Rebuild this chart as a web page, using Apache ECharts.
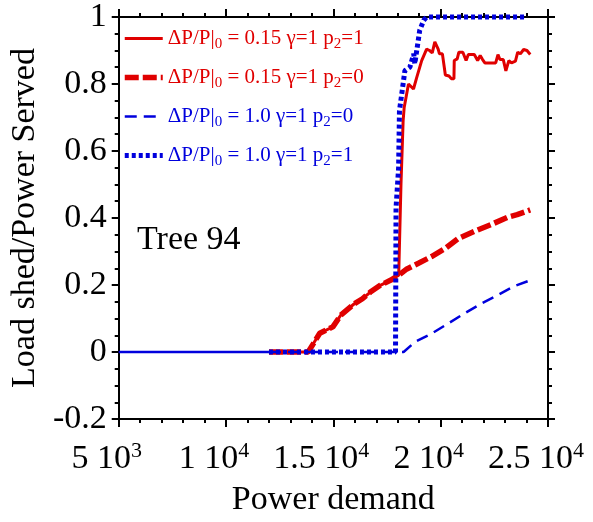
<!DOCTYPE html>
<html>
<head>
<meta charset="utf-8">
<script src="https://cdn.jsdelivr.net/npm/echarts@6/dist/echarts.min.js"></script>
<style>html,body{margin:0;padding:0;background:#fff}#c{width:593px;height:522px}</style>
</head>
<body>
<div id="c"></div>
<script>
// ---- tick labels ----
const xTickVals = [5000, 10000, 15000, 20000, 25000];
const xTickMant = ['5', '1', '1.5', '2', '2.5'];
const xTickExp = ['3', '4', '4', '4', '4'];

// ---- series: ΔP/P|0 = 0.15 γ=1 p2=1 (red solid) ----
const redSolidX = [12000, 13828, 14366, 14977, 15345, 15975, 16356, 16724, 17184, 17657, 18044, 18150, 18250, 18300, 18500, 18733, 18885, 19115, 19345, 19483, 19607, 19727, 19883, 19943, 20080, 20218, 20388, 20494, 20618, 20632, 20770, 20848, 21032, 21184, 21289, 21565, 21722, 21841, 21952, 22058, 22563, 22669, 22761, 22917, 23037, 23175, 23299, 23483, 23589, 23713, 23864, 24020, 24172];
const redSolidY = [0, 0, 0.056, 0.075, 0.11, 0.144, 0.159, 0.179, 0.199, 0.214, 0.229, 0.5, 0.69, 0.73, 0.8, 0.785, 0.82, 0.87, 0.904, 0.90, 0.893, 0.926, 0.904, 0.89, 0.89, 0.827, 0.824, 0.816, 0.816, 0.87, 0.875, 0.895, 0.895, 0.87, 0.888, 0.888, 0.87, 0.885, 0.873, 0.863, 0.863, 0.888, 0.873, 0.873, 0.839, 0.87, 0.863, 0.868, 0.895, 0.89, 0.903, 0.90, 0.888];

// ---- series: ΔP/P|0 = 0.15 γ=1 p2=0 (red dashed) ----
const redDashX = [12000, 13828, 14366, 14977, 15345, 15975, 16356, 16724, 17184, 17657, 18044, 18425, 18963, 19575, 20186, 20802, 21566, 22333, 23101, 23561, 24172];
const redDashY = [0, 0, 0.056, 0.075, 0.11, 0.144, 0.159, 0.179, 0.199, 0.214, 0.229, 0.248, 0.265, 0.285, 0.308, 0.338, 0.36, 0.38, 0.402, 0.41, 0.424];

// ---- series: ΔP/P|0 = 1.0 γ=1 p2=0 (blue dashed) ----
const blueDashX = [12000, 18273, 18806, 19575, 20343, 21106, 21874, 22642, 23405, 24172];
const blueDashY = [0, 0, 0.03, 0.055, 0.085, 0.115, 0.144, 0.169, 0.196, 0.214];
// solid blue baseline at the low-demand end
const baseX = [5000, 12000];
const baseY = [0, 0];

// ---- series: ΔP/P|0 = 1.0 γ=1 p2=1 (blue dotted) ----
const blueDotX = [12000, 17896, 17920, 18040, 18080, 18333, 18563, 18747, 18793, 19023, 19207, 19345, 23943];
const blueDotY = [0, 0, 0.43, 0.55, 0.72, 0.84, 0.85, 0.89, 0.86, 0.96, 0.99, 1.0, 1.0];

// legend label pieces: [prefix, sub0, middle, sub2, suffix]
const legendNames = ['s1', 's2', 's3', 's4'];
const legendParts = [
  ['ΔP/P|', '0', ' = 0.15 γ=1 p', '2', '=1'],
  ['ΔP/P|', '0', ' = 0.15 γ=1 p', '2', '=0'],
  ['ΔP/P|', '0', ' = 1.0 γ=1 p', '2', '=0'],
  ['ΔP/P|', '0', ' = 1.0 γ=1 p', '2', '=1']
];

const RED = '#e00000';
const BLUE = '#0000dd';
const FONT = '"Liberation Serif", "DejaVu Serif", serif';

const styles = [
  {color: RED, width: 3, type: 'solid'},
  {color: RED, width: 5.5, type: [14, 4]},
  {color: BLUE, width: 2.5, type: [12, 7]},
  {color: BLUE, width: 5, type: [4, 3]}
];

function zip(xs, ys) { return xs.map((x, i) => [x, ys[i]]); }

const chart = echarts.init(document.getElementById('c'), null, {renderer: 'canvas'});

function mkAxis(extra) {
  return Object.assign({
    axisLine: {show: true, onZero: false, lineStyle: {color: '#000', width: 2}},
    splitLine: {show: false}
  }, extra);
}
const tickX = {show: true, inside: false, length: 8, lineStyle: {color: '#000', width: 2}};
const minorX = {show: true, splitNumber: 5, length: 4, lineStyle: {color: '#000', width: 2}};
const tickY = {show: true, inside: false, length: 7, lineStyle: {color: '#000', width: 2}};
const minorY = {show: true, splitNumber: 4, length: 4, lineStyle: {color: '#000', width: 2}};

const option = {
  animation: false,
  backgroundColor: '#fff',
  grid: {left: 113, right: 45, top: 16, bottom: 103, containLabel: false},
  title: {
    text: 'Tree 94', left: 132, top: 218,
    textStyle: {fontFamily: FONT, fontSize: 34, fontWeight: 'normal', color: '#000'}
  },
  legend: {
    orient: 'vertical', left: 117, top: 20,
    itemWidth: 38, itemHeight: 14, itemGap: 12,
    itemStyle: {color: 'rgba(0,0,0,0)', borderColor: 'rgba(0,0,0,0)', borderWidth: 0},
    data: legendNames.map((n, i) => ({
      name: n,
      textStyle: {color: i < 2 ? RED : BLUE},
      lineStyle: {color: styles[i].color, width: styles[i].width, type: styles[i].type},
      itemStyle: {color: 'rgba(0,0,0,0)', borderColor: 'rgba(0,0,0,0)', borderWidth: 0}
    })),
    formatter: function (name) {
      const p = legendParts[legendNames.indexOf(name)];
      return '{a|' + p[0] + '}{s|' + p[1] + '}{a|' + p[2] + '}{s|' + p[3] + '}{a|' + p[4] + '}';
    },
    textStyle: {
      fontFamily: FONT, fontSize: 21,
      rich: {
        a: {fontFamily: FONT, fontSize: 21, lineHeight: 26},
        s: {fontFamily: FONT, fontSize: 15, lineHeight: 26, padding: [12, 0, 0, 0]}
      }
    }
  },
  xAxis: [
    mkAxis({
      type: 'value', min: 5000, max: 25000, interval: 5000, position: 'bottom',
      name: 'Power demand', nameLocation: 'middle', nameGap: 62,
      nameTextStyle: {fontFamily: FONT, fontSize: 34, color: '#000'},
      axisTick: tickX, minorTick: minorX,
      axisLabel: {
        show: true, margin: 22, padding: [0, 24, 0, 0],
        formatter: function (v) {
          const i = xTickVals.indexOf(v);
          if (i < 0) return '';
          return '{n|' + xTickMant[i] + ' 10}{p|' + xTickExp[i] + '}';
        },
        rich: {
          n: {fontFamily: FONT, fontSize: 34, color: '#000', lineHeight: 36},
          p: {fontFamily: FONT, fontSize: 22, color: '#000', lineHeight: 36, padding: [0, 0, 16, 0]}
        }
      }
    }),
    mkAxis({
      type: 'value', min: 5000, max: 25000, interval: 5000, position: 'top',
      axisTick: tickX, minorTick: minorX, axisLabel: {show: false}
    })
  ],
  yAxis: [
    mkAxis({
      type: 'value', min: -0.2, max: 1, interval: 0.2, position: 'left',
      name: 'Load shed/Power Served', nameLocation: 'middle', nameGap: 70,
      nameTextStyle: {fontFamily: FONT, fontSize: 34, color: '#000'},
      axisTick: tickY, minorTick: minorY,
      axisLabel: {show: true, margin: 12, fontFamily: FONT, fontSize: 34, color: '#000'}
    }),
    mkAxis({
      type: 'value', min: -0.2, max: 1, interval: 0.2, position: 'right',
      axisTick: tickY, minorTick: minorY, axisLabel: {show: false}
    })
  ],
  series: [
    {
      name: 's1', type: 'line', symbol: 'none', data: zip(redSolidX, redSolidY),
      lineStyle: styles[0], itemStyle: {color: RED}, z: 2
    },
    {
      name: 's2', type: 'line', symbol: 'none', data: zip(redDashX, redDashY),
      lineStyle: styles[1], itemStyle: {color: RED}, z: 3
    },
    {
      name: 'base', type: 'line', symbol: 'none', data: zip(baseX, baseY),
      lineStyle: {color: BLUE, width: 2.5, type: 'solid'}, itemStyle: {color: BLUE}, z: 4
    },
    {
      name: 's3', type: 'line', symbol: 'none', data: zip(blueDashX, blueDashY),
      lineStyle: styles[2], itemStyle: {color: BLUE}, z: 4
    },
    {
      name: 's4', type: 'line', symbol: 'none', data: zip(blueDotX, blueDotY), clip: false,
      lineStyle: styles[3], itemStyle: {color: BLUE}, z: 5
    }
  ]
};
chart.setOption(option);
</script>
</body>
</html>
